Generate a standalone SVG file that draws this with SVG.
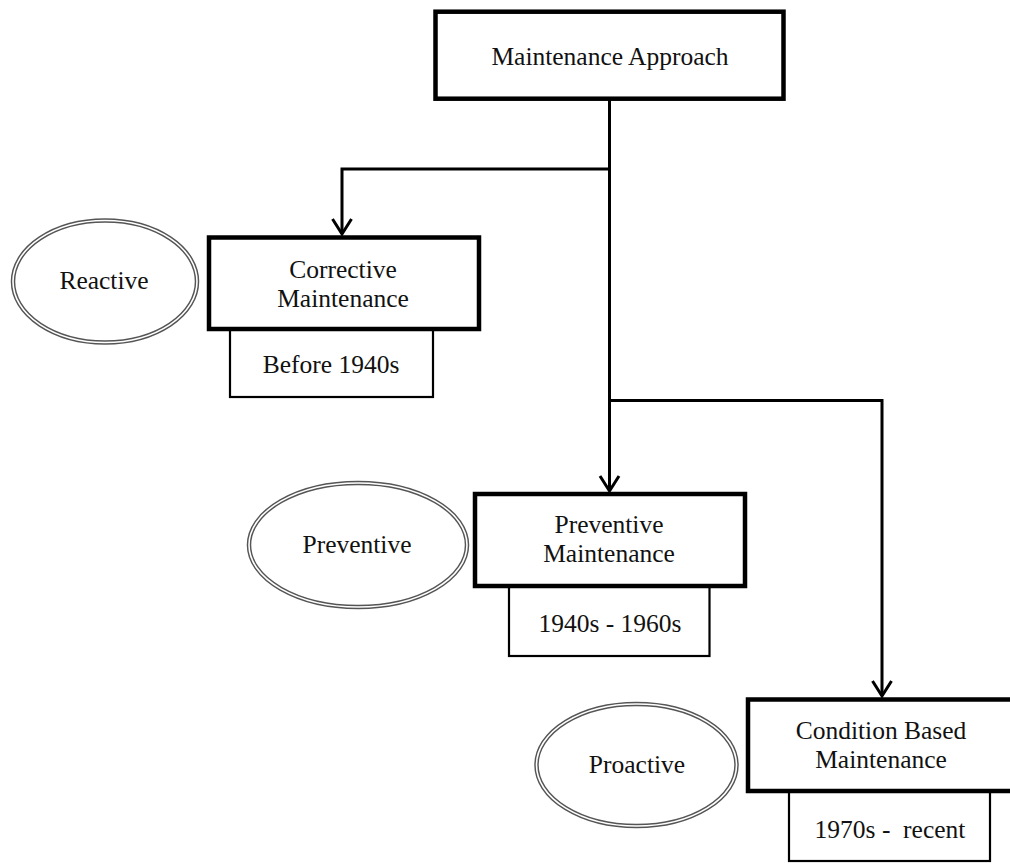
<svg xmlns="http://www.w3.org/2000/svg" width="1010" height="865" viewBox="0 0 1010 865">
<style>
text{font-family:"Liberation Serif","Times New Roman",serif;font-size:25.5px;fill:#111;text-anchor:middle}
.main{fill:#fff;stroke:#000;stroke-width:4.5}
.sub{fill:#fff;stroke:#000;stroke-width:2.2}
.ell-o{fill:#fff;stroke:#555;stroke-width:4.5}
.ell-i{fill:none;stroke:#fff;stroke-width:1.6}
.conn{fill:none;stroke:#000;stroke-width:3}
</style>
<defs>
<marker id="arrow" markerUnits="userSpaceOnUse" viewBox="-18 -12 22 24" refX="0" refY="0" markerWidth="22" markerHeight="24" orient="auto" overflow="visible">
<path d="M-15,-9.5 L0,0 L-15,9.5" fill="none" stroke="#000" stroke-width="3"/>
</marker>
</defs>
<rect width="1010" height="865" fill="#fff"/>
<g id="connectors">
<path class="conn" d="M609.5,100 V491" marker-end="url(#arrow)"/>
<path class="conn" d="M609.5,169 H342 V234" marker-end="url(#arrow)"/>
<path class="conn" d="M609.5,400.5 H882 V696" marker-end="url(#arrow)"/>
</g>
<g id="maintenance-approach">
<rect class="main" x="435.5" y="11.7" width="348" height="87"/>
<text x="610" y="65">Maintenance Approach</text>
</g>
<g id="reactive">
<ellipse class="ell-o" cx="105" cy="281.5" rx="92" ry="61"/>
<ellipse class="ell-i" cx="105" cy="281.5" rx="92" ry="61"/>
<text x="104" y="289">Reactive</text>
</g>
<g id="before-1940s">
<rect class="sub" x="230" y="320" width="203" height="77"/>
<text x="331" y="373">Before 1940s</text>
</g>
<g id="corrective">
<rect class="main" x="209" y="237.5" width="270" height="91.5"/>
<text x="343" y="278">Corrective</text>
<text x="343" y="306.5">Maintenance</text>
</g>
<g id="preventive">
<ellipse class="ell-o" cx="358" cy="545" rx="109" ry="62"/>
<ellipse class="ell-i" cx="358" cy="545" rx="109" ry="62"/>
<text x="357" y="553">Preventive</text>
</g>
<g id="y1940s-1960s">
<rect class="sub" x="509" y="576" width="200.5" height="80"/>
<text x="610" y="632">1940s - 1960s</text>
</g>
<g id="preventive-maintenance">
<rect class="main" x="475" y="494" width="270" height="92"/>
<text x="609" y="533">Preventive</text>
<text x="609" y="562">Maintenance</text>
</g>
<g id="proactive">
<ellipse class="ell-o" cx="636.5" cy="765" rx="100" ry="61"/>
<ellipse class="ell-i" cx="636.5" cy="765" rx="100" ry="61"/>
<text x="637" y="773">Proactive</text>
</g>
<g id="y1970s-recent">
<rect class="sub" x="789" y="782" width="201" height="79"/>
<text x="890" y="838" xml:space="preserve">1970s -  recent</text>
</g>
<g id="condition-based">
<rect class="main" x="748" y="699.5" width="275" height="91.5"/>
<text x="881" y="739">Condition Based</text>
<text x="881" y="768">Maintenance</text>
</g>
</svg>
